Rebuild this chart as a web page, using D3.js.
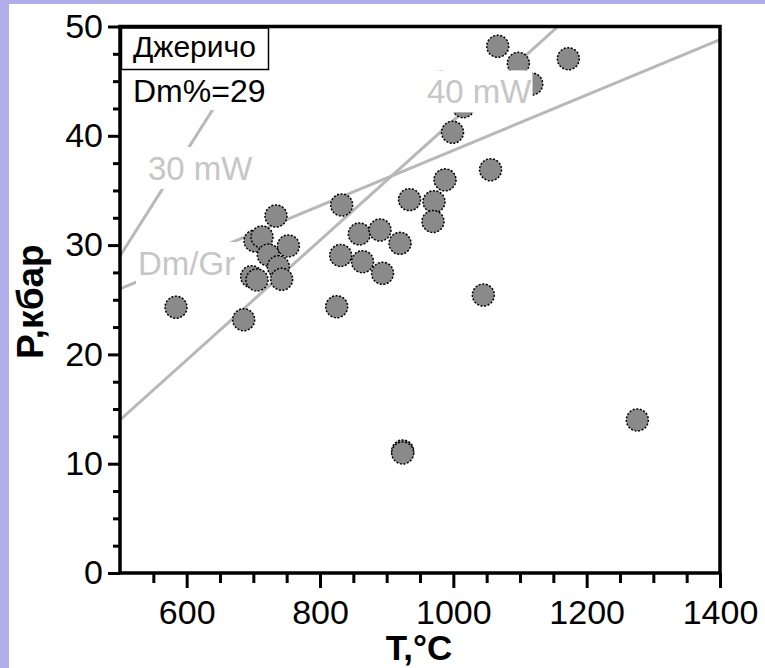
<!DOCTYPE html>
<html><head><meta charset="utf-8">
<script src="https://cdn.jsdelivr.net/npm/d3@7"></script>
<style>
html,body{margin:0;padding:0;background:#b0ade8;}
svg{display:block;}
text{font-family:"Liberation Sans",Arial,sans-serif;}
</style></head>
<body>
<script>
// ---- data ----
const temps = [1066.6,1097.5,1172.5,1117.6,1015,980.8,998.8,1055.8,987.5,934.3,971,832.5,969.5,859,890,920,831,863.8,893.8,1045,825,924,924,1276,734,702.5,713,752.5,722.5,737.5,697.5,705.5,742.5,584,685.5];
const pressures = [48.19,46.63,47.05,44.74,42.66,44.93,40.32,36.89,35.97,34.16,33.97,33.67,32.16,31.02,31.38,30.16,29.05,28.48,27.42,25.43,24.36,11.16,10.98,14.0,32.66,30.38,30.74,29.92,29.09,28.02,27.11,26.81,26.87,24.31,23.17];

const lineNames = ["30 mW","40 mW","Dm/Gr"];
const lineT0 = [500,500,500];
const lineP0 = [29.0,14.0,26.0];
const lineT1 = [718,1157,1400];
const lineP1 = [50,50,48.8];
const lineLabelT = [542,960.5,527];
const lineLabelP = [35.96,42.97,27.26];

const xMajorTicks = [600,800,1000,1200,1400];
const xMinorTicks = d3.range(550,1400,50).filter(v=>v%200!==0);
const yMajorTicks = [0,10,20,30,40,50];
const yMinorTicks = d3.range(2.5,50,2.5).filter(v=>v%10!==0);

const legendTitle = "Джеричо";
const legendSub = "Dm%=29";
const xTitle = "T,°C";
const yTitle = "P,кбар";

// ---- layout ----
const W=765,H=668;
const svg=d3.select("body").append("svg").attr("width",W).attr("height",H);
svg.append("rect").attr("x",9).attr("y",4).attr("width",W-9).attr("height",H-4).attr("fill","#fff");

const x=d3.scaleLinear().domain([500,1400]).range([120,720]);
const y=d3.scaleLinear().domain([0,50]).range([573,26.5]);

svg.append("clipPath").attr("id","plot").append("rect")
  .attr("x",120).attr("y",26.5).attr("width",600).attr("height",546.5);

// lines
const lg=svg.append("g").attr("clip-path","url(#plot)");
lineNames.forEach((n,i)=>{
  lg.append("line").attr("x1",x(lineT0[i])).attr("y1",y(lineP0[i]))
    .attr("x2",x(lineT1[i])).attr("y2",y(lineP1[i]))
    .attr("stroke","#b8b8b8").attr("stroke-width",3);
});

// points
svg.append("g").selectAll("circle").data(temps.map((t,i)=>[t,pressures[i]])).join("circle")
  .attr("cx",d=>x(d[0])).attr("cy",d=>y(d[1])).attr("r",11)
  .attr("fill","#8a8a8a").attr("stroke","#000").attr("stroke-width",1.5)
  .attr("stroke-dasharray","2,1.6");

// line labels with white boxes
lineNames.forEach((n,i)=>{
  const g=svg.append("g");
  const tx=x(lineLabelT[i]), ty=y(lineLabelP[i]);
  const t=g.append("text").attr("x",tx).attr("y",ty).attr("font-size",33)
    .attr("fill","#c6c6c6").text(n);
  const w=t.node().getComputedTextLength();
  g.insert("rect","text").attr("x",tx-2).attr("y",ty-33).attr("width",w+3).attr("height",42).attr("fill","#fff");
});

// legend boxes
svg.append("rect").attr("x",122).attr("y",69.5).attr("width",150).attr("height",40.5).attr("fill","#fff");
svg.append("text").attr("x",133).attr("y",101.7).attr("font-size",32).attr("fill","#000").text(legendSub);
svg.append("rect").attr("x",121.5).attr("y",28).attr("width",147).attr("height",41.5)
  .attr("fill","#fff").attr("stroke","#000").attr("stroke-width",1.5);
svg.append("text").attr("x",133).attr("y",56.7).attr("font-size",30).attr("fill","#000").text(legendTitle);

// axes
function styleAxis(g){
  g.select(".domain").remove();
  g.selectAll(".tick line").attr("stroke","#000").attr("stroke-width",3);
  g.selectAll(".tick text").attr("font-size",34).attr("fill","#000").attr("font-family","Liberation Sans, Arial, sans-serif");
}
svg.append("g").attr("transform","translate(0,573)")
  .call(d3.axisBottom(x).tickValues(xMinorTicks).tickSize(10).tickFormat(""))
  .call(styleAxis);
svg.append("g").attr("transform","translate(0,573)")
  .call(d3.axisBottom(x).tickValues(xMajorTicks).tickSize(15).tickPadding(12).tickFormat(d3.format("d")))
  .call(styleAxis);
svg.append("g").attr("transform","translate(120,0)")
  .call(d3.axisLeft(y).tickValues(yMinorTicks).tickSize(7).tickFormat(""))
  .call(styleAxis);
svg.append("g").attr("transform","translate(120,0)")
  .call(d3.axisLeft(y).tickValues(yMajorTicks).tickSize(12).tickPadding(5).tickFormat(d3.format("d")))
  .call(styleAxis);

// frame
svg.append("rect").attr("x",120).attr("y",26.5).attr("width",600).attr("height",546.5)
  .attr("fill","none").attr("stroke","#000").attr("stroke-width",3.5);

// titles
svg.append("text").attr("x",419).attr("y",659.5).attr("text-anchor","middle")
  .attr("font-size",35).attr("font-weight","bold").attr("fill","#000").text(xTitle);
svg.append("text").attr("transform","translate(42.7,301.7) rotate(-90)").attr("text-anchor","middle")
  .attr("font-size",37).attr("font-weight","bold").attr("fill","#000").text(yTitle);
</script>
</body></html>
